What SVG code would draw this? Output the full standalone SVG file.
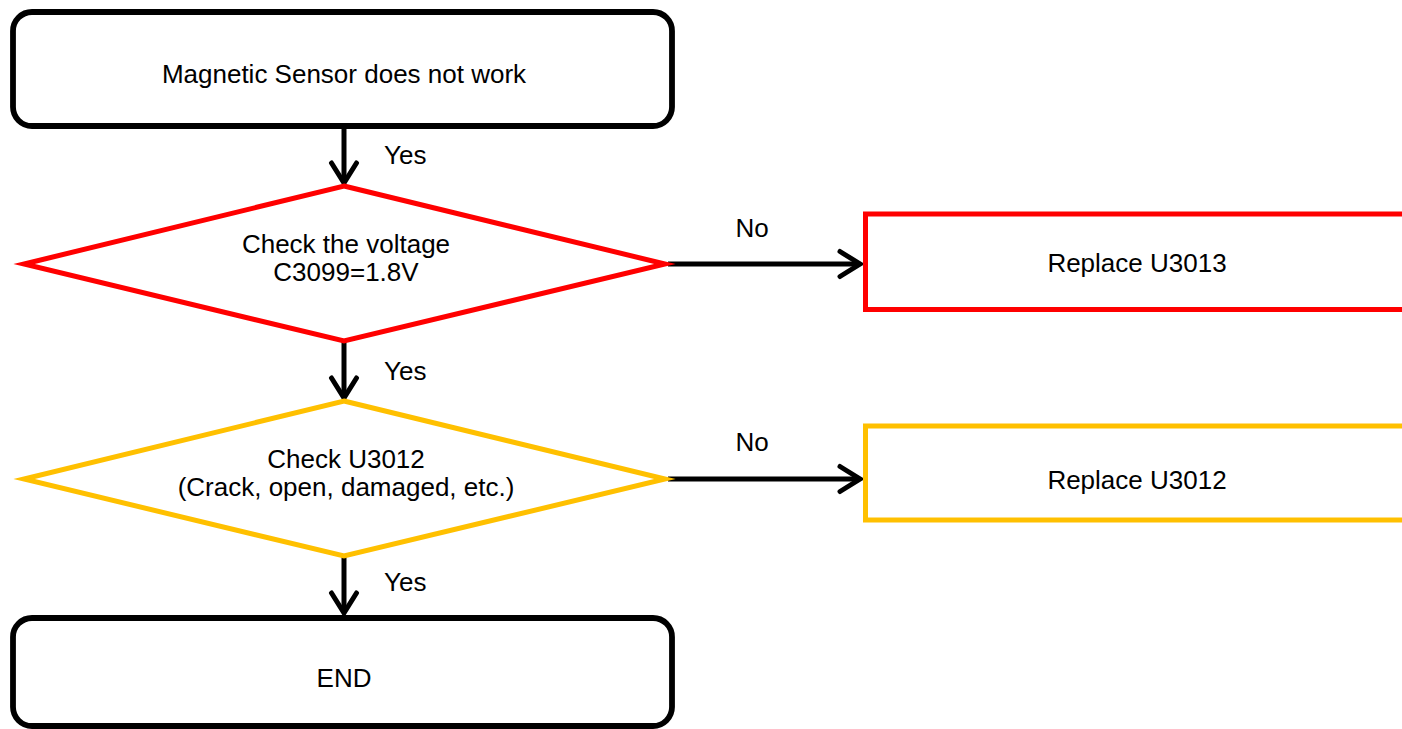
<svg xmlns="http://www.w3.org/2000/svg" width="1402" height="729" viewBox="0 0 1402 729">
  <defs>
    <style>
      .txt { font-family: "Liberation Sans", Arial, sans-serif; font-size: 26px; fill: #000; }
      .mid { text-anchor: middle; }
      .term { fill: #fff; stroke: #000; stroke-width: 5.8; }
      .red { fill: #fff; stroke: #FF0000; stroke-width: 5; stroke-linejoin: miter; stroke-miterlimit: 10; }
      .yel { fill: #fff; stroke: #FFC000; stroke-width: 5; stroke-linejoin: miter; stroke-miterlimit: 10; }
      .conn { stroke: #000; stroke-width: 5; fill: none; }
    </style>
    <marker id="arr" markerUnits="userSpaceOnUse" viewBox="-26 -17 30 34" refX="0" refY="0" markerWidth="30" markerHeight="34" orient="auto">
      <path d="M -20 -12.5 L 0 0 L -20 12.5" fill="none" stroke="#000" stroke-width="5" stroke-linecap="round" stroke-linejoin="miter"/>
    </marker>
  </defs>
  <rect width="1402" height="729" fill="#fff"/>

  <g id="connectors">
    <line class="conn" x1="344" y1="127" x2="344" y2="183" marker-end="url(#arr)"/>
    <line class="conn" x1="344" y1="341" x2="344" y2="398" marker-end="url(#arr)"/>
    <line class="conn" x1="344" y1="556" x2="344" y2="613" marker-end="url(#arr)"/>
    <line class="conn" x1="668" y1="264" x2="860" y2="264" marker-end="url(#arr)"/>
    <line class="conn" x1="668" y1="479" x2="860" y2="479" marker-end="url(#arr)"/>
    <text class="txt" x="384" y="164">Yes</text>
    <text class="txt" x="384" y="380">Yes</text>
    <text class="txt" x="384" y="591">Yes</text>
    <text class="txt mid" x="752" y="237">No</text>
    <text class="txt mid" x="752" y="451">No</text>
  </g>

  <g id="start">
    <rect class="term" x="13" y="12" width="659" height="114" rx="19" ry="19"/>
    <text class="txt mid" x="344" y="83">Magnetic Sensor does not work</text>
  </g>

  <g id="check-voltage">
    <polygon class="red" points="344,186 665,264 344,341 24,264"/>
    <text class="txt mid" x="346" y="253">Check the voltage</text>
    <text class="txt mid" x="346" y="281">C3099=1.8V</text>
  </g>

  <g id="replace-u3013">
    <rect class="red" x="865.5" y="214" width="545" height="95.5"/>
    <text class="txt mid" x="1137" y="272">Replace U3013</text>
  </g>

  <g id="check-u3012">
    <polygon class="yel" points="344,401 665,479 344,556 24,479"/>
    <text class="txt mid" x="346" y="468">Check U3012</text>
    <text class="txt mid" x="346" y="496">(Crack, open, damaged, etc.)</text>
  </g>

  <g id="replace-u3012">
    <rect class="yel" x="865.5" y="426" width="545" height="94"/>
    <text class="txt mid" x="1137" y="489">Replace U3012</text>
  </g>

  <g id="end">
    <rect class="term" x="13" y="618" width="659" height="108" rx="19" ry="19"/>
    <text class="txt mid" x="344" y="687">END</text>
  </g>
</svg>
